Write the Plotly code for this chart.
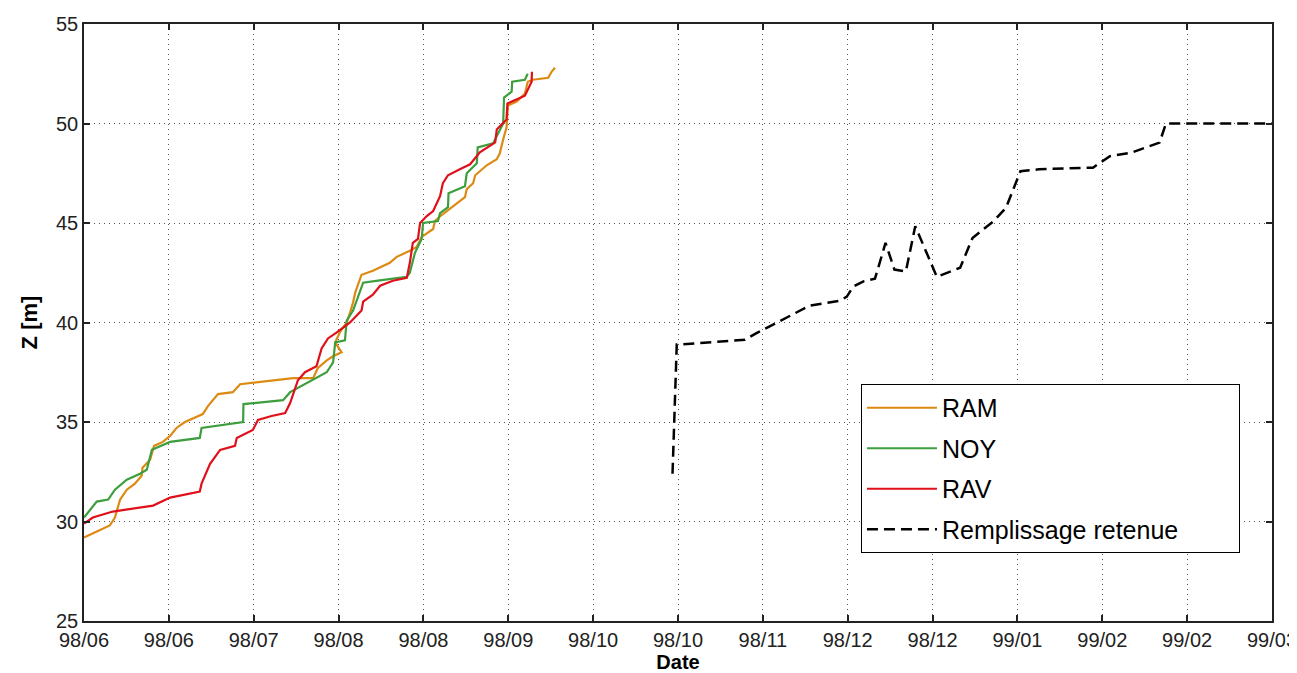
import plotly.graph_objects as go

# ---------------- data ----------------
ram_dates = ["1998-06-10 00:00", "1998-06-16 02:00", "1998-06-17 07:00", "1998-06-18 12:00",
             "1998-06-20 02:00", "1998-06-22 00:00", "1998-06-23 14:00", "1998-06-23 19:00",
             "1998-06-25 14:00", "1998-06-26 12:00", "1998-06-28 14:00", "1998-06-30 07:00",
             "1998-07-01 19:00", "1998-07-03 19:00", "1998-07-08 00:00", "1998-07-09 05:00",
             "1998-07-11 14:00", "1998-07-15 02:00", "1998-07-16 19:00", "1998-07-21 12:00",
             "1998-07-29 07:00", "1998-08-03 00:00", "1998-08-04 02:00", "1998-08-06 05:00",
             "1998-08-07 17:00", "1998-08-09 17:00", "1998-08-08 05:00", "1998-08-09 07:00",
             "1998-08-10 22:00", "1998-08-11 17:00", "1998-08-12 10:00", "1998-08-12 22:00",
             "1998-08-14 10:00", "1998-08-17 02:00", "1998-08-21 02:00", "1998-08-22 17:00",
             "1998-08-25 19:00", "1998-08-27 10:00", "1998-08-28 14:00", "1998-08-31 07:00",
             "1998-08-31 17:00", "1998-09-02 07:00", "1998-09-04 17:00", "1998-09-07 19:00",
             "1998-09-08 05:00", "1998-09-09 17:00", "1998-09-10 05:00", "1998-09-12 22:00",
             "1998-09-15 07:00", "1998-09-16 00:00", "1998-09-16 19:00", "1998-09-17 14:00",
             "1998-09-17 22:00", "1998-09-20 00:00", "1998-09-21 22:00", "1998-09-22 14:00",
             "1998-09-23 19:00", "1998-09-27 10:00", "1998-09-28 05:00", "1998-09-29 00:00"]
ram_z = [29.2, 29.8, 30.2, 31.1, 31.6, 31.9, 32.3, 32.7, 33.1, 33.8, 34.0, 34.3,
         34.7, 35.0, 35.4, 35.8, 36.4, 36.5, 36.9, 37.0, 37.2, 37.2, 37.7, 38.1,
         38.3, 38.5, 39.0, 39.5, 40.0, 40.5, 41.0, 41.5, 42.4, 42.6, 43.0, 43.3,
         43.6, 43.8, 44.3, 44.7, 45.1, 45.4, 45.8, 46.3, 46.7, 47.0, 47.4, 47.9,
         48.2, 48.5, 49.2, 49.8, 50.9, 51.1, 51.5, 52.1, 52.2, 52.3, 52.6, 52.8]

noy_dates = ["1998-06-10 00:00", "1998-06-11 19:00", "1998-06-13 00:00", "1998-06-15 17:00",
             "1998-06-17 07:00", "1998-06-20 02:00", "1998-06-23 05:00", "1998-06-24 19:00",
             "1998-06-26 00:00", "1998-06-30 07:00", "1998-07-07 07:00", "1998-07-07 17:00",
             "1998-07-17 12:00", "1998-07-17 14:00", "1998-07-26 22:00", "1998-07-28 14:00",
             "1998-08-03 19:00", "1998-08-06 05:00", "1998-08-07 17:00", "1998-08-08 05:00",
             "1998-08-10 12:00", "1998-08-10 22:00", "1998-08-12 10:00", "1998-08-14 00:00",
             "1998-08-14 19:00", "1998-08-18 07:00", "1998-08-25 02:00", "1998-08-25 19:00",
             "1998-08-27 00:00", "1998-08-28 14:00", "1998-08-28 22:00", "1998-09-01 10:00",
             "1998-09-01 22:00", "1998-09-03 19:00", "1998-09-03 22:00", "1998-09-07 19:00",
             "1998-09-08 05:00", "1998-09-10 14:00", "1998-09-10 19:00", "1998-09-14 10:00",
             "1998-09-15 07:00", "1998-09-16 19:00", "1998-09-17 00:00", "1998-09-18 19:00",
             "1998-09-18 22:00", "1998-09-21 22:00", "1998-09-22 14:00"]
noy_z = [30.2, 30.7, 31.0, 31.1, 31.6, 32.1, 32.4, 32.6, 33.6, 34.0, 34.2, 34.7,
         35.0, 35.9, 36.1, 36.5, 37.2, 37.5, 38.0, 39.0, 39.1, 40.1, 40.6, 41.6,
         42.0, 42.1, 42.3, 42.5, 43.5, 44.2, 45.0, 45.1, 45.5, 45.8, 46.5, 46.85,
         47.5, 48.0, 48.8, 49.0, 49.4, 50.0, 51.3, 51.6, 52.1, 52.2, 52.5]

rav_dates = ["1998-06-10 00:00", "1998-06-12 02:00", "1998-06-16 19:00", "1998-06-26 07:00",
             "1998-06-30 07:00", "1998-07-07 07:00", "1998-07-07 17:00", "1998-07-09 17:00",
             "1998-07-12 02:00", "1998-07-15 14:00", "1998-07-16 00:00", "1998-07-19 19:00",
             "1998-07-21 00:00", "1998-07-24 05:00", "1998-07-27 10:00", "1998-07-28 14:00",
             "1998-07-30 10:00", "1998-08-01 02:00", "1998-08-03 19:00", "1998-08-05 00:00",
             "1998-08-06 12:00", "1998-08-08 14:00", "1998-08-11 17:00", "1998-08-14 10:00",
             "1998-08-14 19:00", "1998-08-17 02:00", "1998-08-18 19:00", "1998-08-21 19:00",
             "1998-08-25 02:00", "1998-08-25 19:00", "1998-08-26 12:00", "1998-08-27 17:00",
             "1998-08-28 05:00", "1998-08-29 19:00", "1998-08-31 07:00", "1998-09-01 22:00",
             "1998-09-02 14:00", "1998-09-03 19:00", "1998-09-06 14:00", "1998-09-09 00:00",
             "1998-09-11 07:00", "1998-09-14 22:00", "1998-09-15 07:00", "1998-09-17 14:00",
             "1998-09-17 19:00", "1998-09-21 22:00", "1998-09-23 12:00", "1998-09-23 14:00"]
rav_z = [29.9, 30.2, 30.5, 30.8, 31.2, 31.5, 31.9, 32.9, 33.6, 33.8, 34.2, 34.6,
         35.1, 35.3, 35.45, 35.95, 37.1, 37.5, 37.8, 38.7, 39.2, 39.5, 40.0, 40.6,
         41.05, 41.4, 41.85, 42.1, 42.25, 43.0, 44.0, 44.2, 45.0, 45.35, 45.6, 46.35,
         47.0, 47.4, 47.7, 47.95, 48.55, 49.05, 49.7, 50.2, 51.0, 51.4, 52.1, 52.6]

ret_dates = ["1998-10-26 17:00", "1998-10-27 05:00", "1998-10-27 17:00", "1998-10-28 12:00",
             "1998-11-12 19:00", "1998-11-15 12:00", "1998-11-21 19:00", "1998-11-25 17:00",
             "1998-11-28 02:00", "1998-12-05 05:00", "1998-12-06 19:00", "1998-12-08 07:00",
             "1998-12-10 17:00", "1998-12-13 10:00", "1998-12-15 22:00", "1998-12-18 00:00",
             "1998-12-20 17:00", "1998-12-22 22:00", "1998-12-28 00:00", "1999-01-02 12:00",
             "1999-01-05 10:00", "1999-01-10 10:00", "1999-01-13 07:00", "1999-01-16 17:00",
             "1999-01-21 02:00", "1999-02-02 19:00", "1999-02-06 19:00", "1999-02-11 19:00",
             "1999-02-18 12:00", "1999-02-20 00:00", "1999-03-17 00:00"]
ret_z = [32.4, 36.1, 38.9, 38.9, 39.13, 39.47, 40.14, 40.56, 40.85, 41.1, 41.3, 41.8,
         42.07, 42.2, 44.0, 42.66, 42.57, 44.84, 42.3, 42.75, 44.25, 45.1, 45.76, 47.6,
         47.7, 47.78, 48.36, 48.53, 49.04, 50.0, 50.0]

tick_dates = ["1998-06-10", "1998-06-30", "1998-07-20", "1998-08-09", "1998-08-29",
              "1998-09-18", "1998-10-08", "1998-10-28", "1998-11-17", "1998-12-07",
              "1998-12-27", "1999-01-16", "1999-02-05", "1999-02-25", "1999-03-17"]
tick_labels = ["98/06", "98/06", "98/07", "98/08", "98/08", "98/09", "98/10", "98/10",
               "98/11", "98/12", "98/12", "99/01", "99/02", "99/02", "99/03"]
y_ticks = [25, 30, 35, 40, 45, 50, 55]

# ---------------- figure ----------------
FONT = "Liberation Sans, Arial, Helvetica, sans-serif"
PAD = "\u00a0" * 8  # legend box breathing room on the right (as in the reference)
fig = go.Figure()
series = [
    (ram_dates, ram_z, "RAM", dict(color="#DC8A12", width=2.2)),
    (noy_dates, noy_z, "NOY", dict(color="#3C9E3C", width=2.2)),
    (rav_dates, rav_z, "RAV", dict(color="#E0101A", width=2.2)),
    (ret_dates, ret_z, "Remplissage retenue" + PAD,
     dict(color="black", width=2.5, dash="11px,6px")),
]
for i, (xd, yd, name, ln) in enumerate(series):
    fig.add_trace(go.Scatter(x=xd, y=yd, mode="lines", name=name, line=ln,
                             legendgroup=f"g{i}"))

axis_common = dict(
    showline=True, linecolor="#222", linewidth=1.5, mirror="ticks",
    ticks="inside", ticklen=6, tickwidth=1.5, tickcolor="#222",
    showgrid=True, gridcolor="#555", gridwidth=1, griddash="1px,4px",
    zeroline=False, automargin=False, ticklabeloverflow="allow",
    tickfont=dict(family=FONT, size=20, color="#222"),
)

fig.update_xaxes(
    range=["1998-06-10", "1999-03-17"], tickmode="array",
    tickvals=tick_dates, ticktext=tick_labels,
    title=dict(text="Date", font=dict(family=FONT, size=20, color="black", weight="bold"),
               standoff=6),
    **axis_common,
)
fig.update_yaxes(
    range=[25, 55], tickmode="array", tickvals=y_ticks,
    title=dict(text="Z [m]", font=dict(family=FONT, size=22, color="black", weight="bold"),
               standoff=12),
    **axis_common,
)

fig.update_layout(
    width=1290, height=665,
    margin=dict(l=76, r=26, t=16, b=52),
    paper_bgcolor="white", plot_bgcolor="white",
    showlegend=True,
    legend=dict(
        x=0.654, y=0.397, xanchor="left", yanchor="top",
        bgcolor="white", bordercolor="black", borderwidth=1,
        font=dict(family=FONT, size=25, color="black"),
        tracegroupgap=5, itemwidth=70, traceorder="grouped",
    ),
)

fig.write_html("out.html")
